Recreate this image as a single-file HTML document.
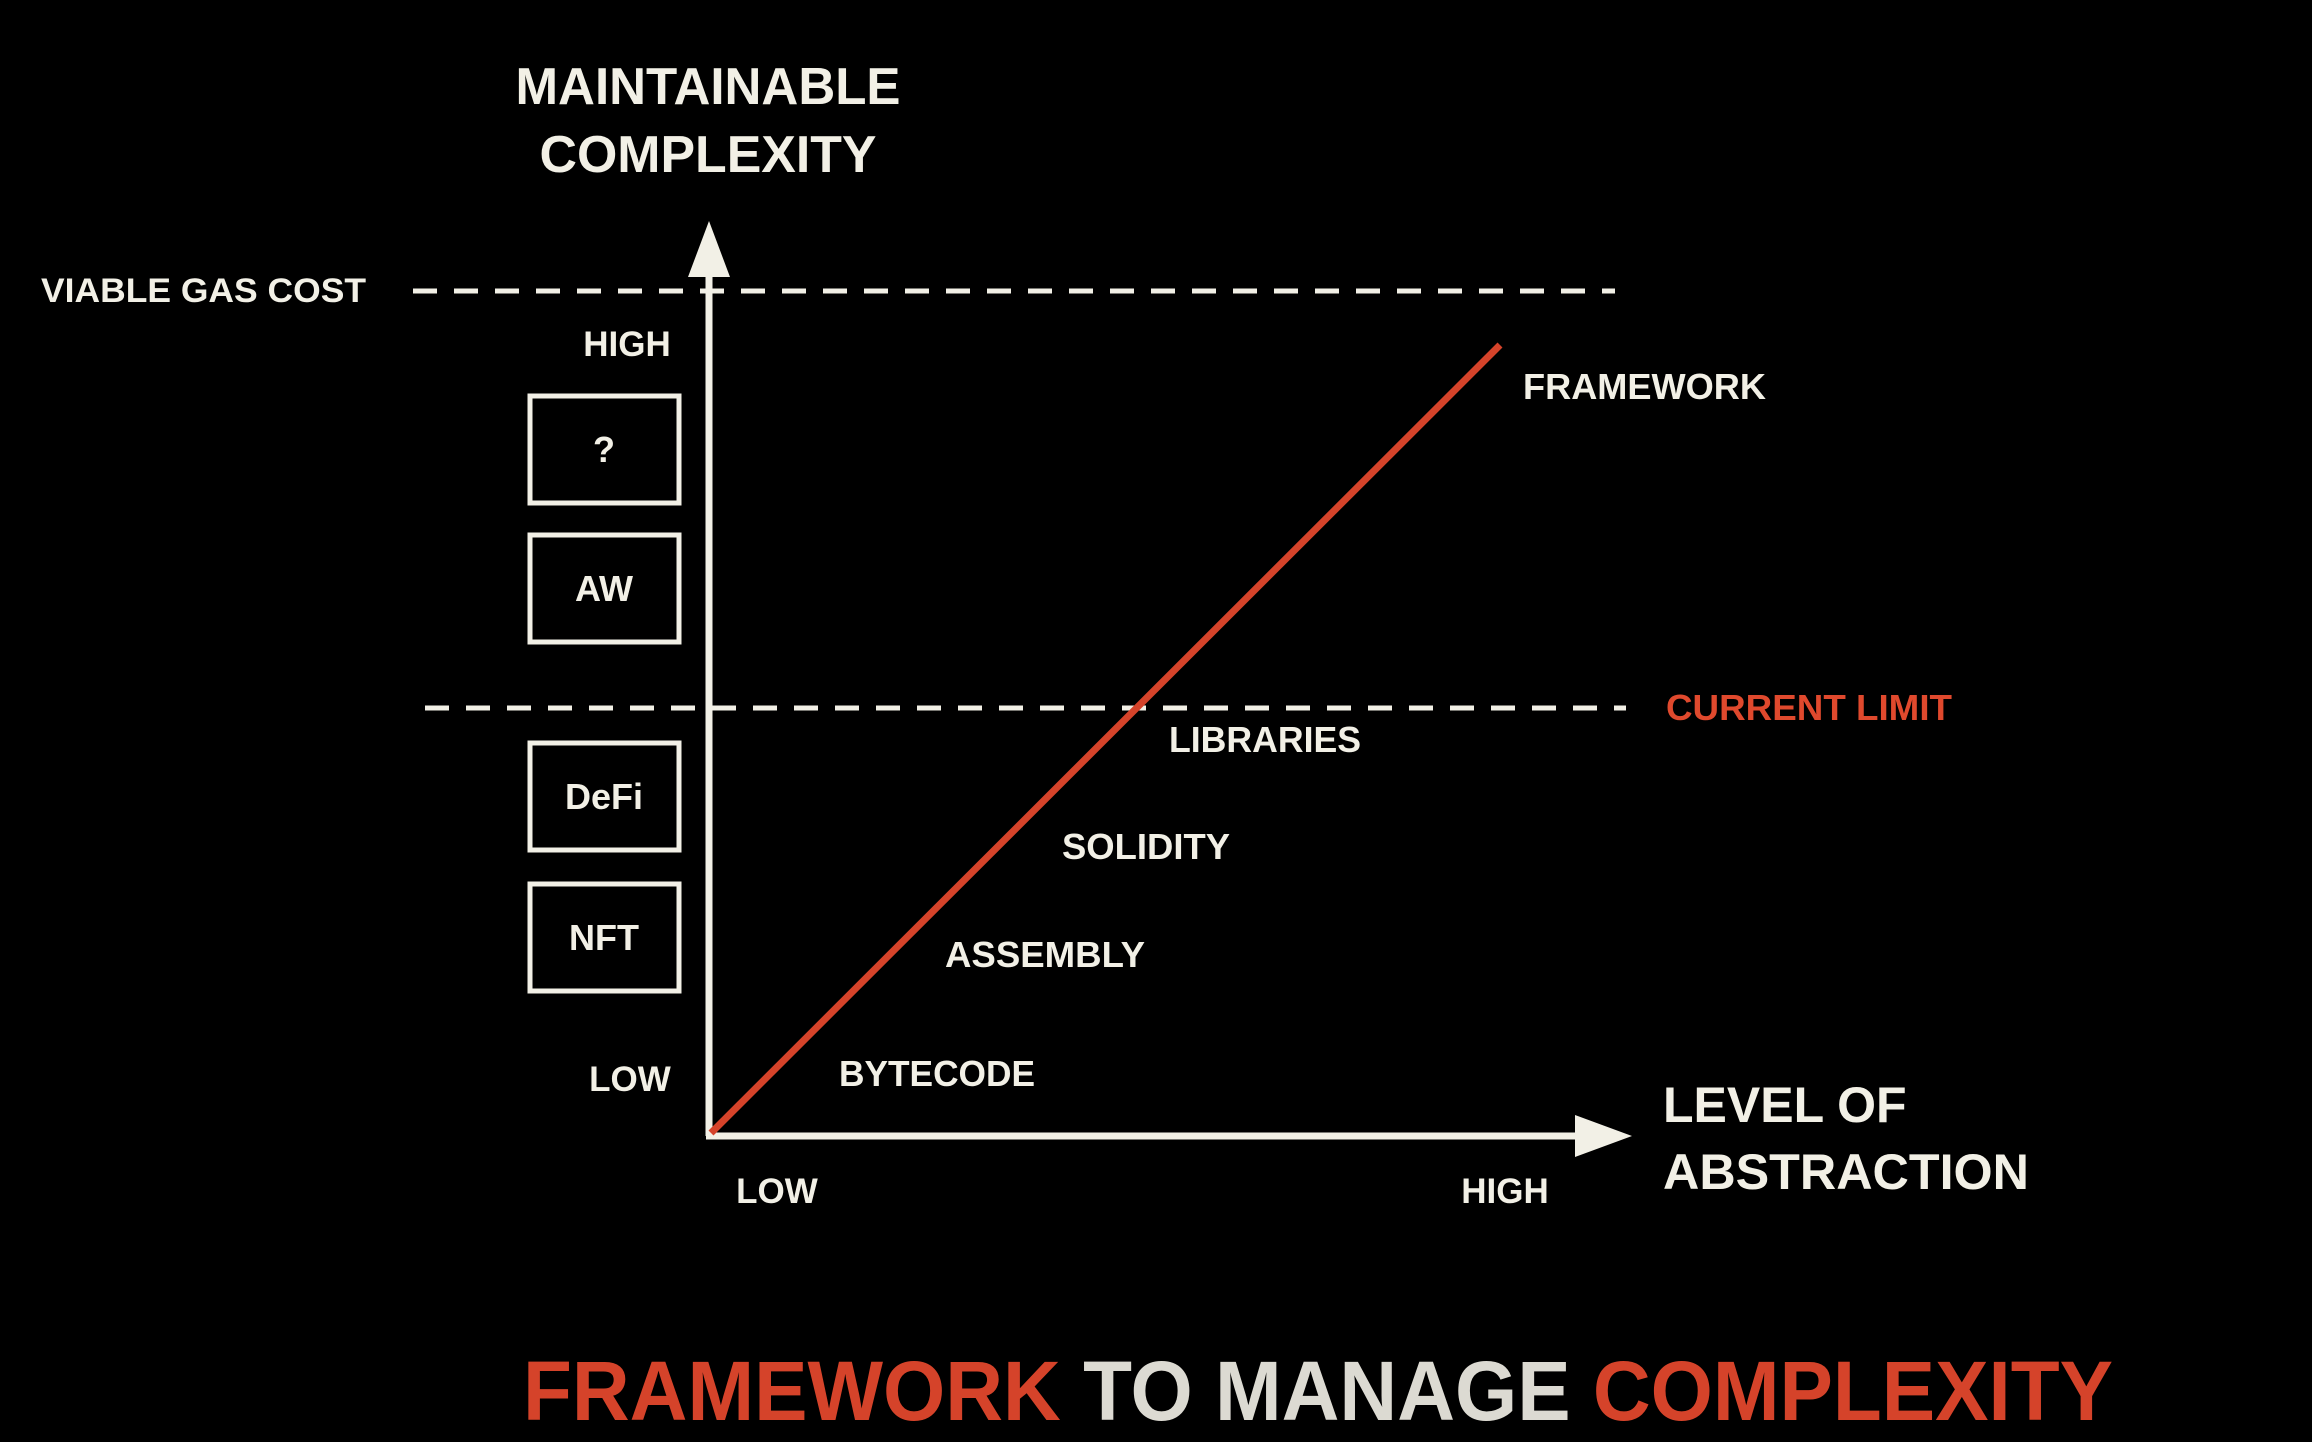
<!DOCTYPE html>
<html><head><meta charset="utf-8"><style>
html,body{margin:0;padding:0;background:#000;}
svg{display:block}
text{font-family:"Liberation Sans",sans-serif;font-weight:bold;fill:#f2f0e6}
</style></head><body>
<svg width="2312" height="1442" viewBox="0 0 2312 1442" xmlns="http://www.w3.org/2000/svg">
<rect width="2312" height="1442" fill="#000"/>
<text x="708" y="104" font-size="52" text-anchor="middle" textLength="385" lengthAdjust="spacingAndGlyphs">MAINTAINABLE</text>
<text x="708" y="172" font-size="52" text-anchor="middle" textLength="337" lengthAdjust="spacingAndGlyphs">COMPLEXITY</text>
<text x="41" y="302" font-size="34" fill="#e0ded6" textLength="325" lengthAdjust="spacingAndGlyphs">VIABLE GAS COST</text>
<line x1="413" y1="291" x2="1615" y2="291" stroke="#f2f0e6" stroke-width="5" stroke-dasharray="24,17"/>
<line x1="425" y1="708" x2="1626" y2="708" stroke="#f2f0e6" stroke-width="5" stroke-dasharray="24,17"/>
<text x="1666" y="720" font-size="36" style="fill:#e0492d" textLength="286" lengthAdjust="spacingAndGlyphs">CURRENT LIMIT</text>
<line x1="709" y1="1136" x2="709" y2="265" stroke="#f2f0e6" stroke-width="7"/>
<polygon points="709,221 688,277 730,277" fill="#f2f0e6"/>
<line x1="706" y1="1136" x2="1590" y2="1136" stroke="#f2f0e6" stroke-width="7"/>
<polygon points="1632,1136 1575,1115 1575,1157" fill="#f2f0e6"/>
<line x1="711" y1="1133" x2="1500" y2="345" stroke="#d5432a" stroke-width="7"/>
<text x="627" y="356" font-size="35" text-anchor="middle">HIGH</text>
<text x="630" y="1091" font-size="35" text-anchor="middle">LOW</text>
<text x="777" y="1203" font-size="35" text-anchor="middle">LOW</text>
<text x="1505" y="1203" font-size="35" text-anchor="middle">HIGH</text>
<g fill="none" stroke="#f2f0e6" stroke-width="5">
<rect x="530" y="396" width="149" height="107"/>
<rect x="530" y="535" width="149" height="107"/>
<rect x="530" y="743" width="149" height="107"/>
<rect x="530" y="884" width="149" height="107"/>
</g>
<text x="604" y="462" font-size="36" text-anchor="middle">?</text>
<text x="604" y="601" font-size="36" text-anchor="middle">AW</text>
<text x="604" y="809" font-size="36" text-anchor="middle">DeFi</text>
<text x="604" y="950" font-size="36" text-anchor="middle">NFT</text>
<text x="1523" y="399" font-size="36" textLength="243" lengthAdjust="spacingAndGlyphs">FRAMEWORK</text>
<text x="1169" y="752" font-size="36" textLength="192" lengthAdjust="spacingAndGlyphs">LIBRARIES</text>
<text x="1062" y="859" font-size="36" textLength="168" lengthAdjust="spacingAndGlyphs">SOLIDITY</text>
<text x="945" y="967" font-size="36" textLength="200" lengthAdjust="spacingAndGlyphs">ASSEMBLY</text>
<text x="839" y="1086" font-size="36" textLength="196" lengthAdjust="spacingAndGlyphs">BYTECODE</text>
<text x="1663" y="1122" font-size="50">LEVEL OF</text>
<text x="1663" y="1189" font-size="50" textLength="366" lengthAdjust="spacingAndGlyphs">ABSTRACTION</text>
<text x="523" y="1420" font-size="84" textLength="1590" lengthAdjust="spacingAndGlyphs"><tspan style="fill:#d5432a">FRAMEWORK</tspan> <tspan style="fill:#dcdad2">TO MANAGE</tspan> <tspan style="fill:#d5432a">COMPLEXITY</tspan></text>
</svg>
</body></html>
